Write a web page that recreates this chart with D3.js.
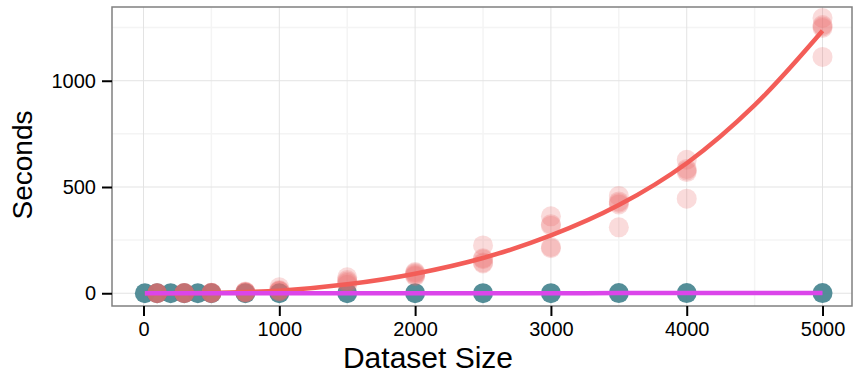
<!DOCTYPE html>
<html>
<head>
<meta charset="utf-8">
<script src="https://cdn.jsdelivr.net/npm/d3@7"></script>
<style>
  body { margin: 0; background: #fff; }
  text { font-family: "Liberation Sans", Arial, Helvetica, sans-serif; }
</style>
</head>
<body>
<svg id="chart"></svg>
<script>
var width = 853;
var height = 376;

// slow method: one row of repeated runs per dataset size
var slowSizes = [100, 300, 500, 750, 1000, 1500, 2000, 2500, 3000, 3500, 4000, 5000];
var slowRuns = [
    [0.1, 0.1, 0.1, 0.2, 0.2],
    [0.5, 0.6, 0.6, 0.7, 0.8],
    [1, 1, 1.5, 2, 2],
    [3, 4, 5, 6, 8],
    [8, 10, 12, 15, 28],
    [40, 48, 55, 62, 75],
    [80, 85, 90, 95, 100],
    [140, 145, 160, 165, 225],
    [212, 218, 318, 325, 362],
    [310, 418, 425, 432, 458],
    [445, 570, 578, 585, 628],
    [1112, 1248, 1255, 1262, 1295]
];

// fast method: stays near zero everywhere
var fastSizes = [10, 100, 200, 300, 400, 500, 750, 1000, 1500, 2000, 2500, 3000, 3500, 4000, 5000];
var fastSeconds = [0.01, 0.02, 0.03, 0.05, 0.06, 0.08, 0.1, 0.15, 0.2, 0.3, 0.4, 0.5, 0.6, 0.7, 0.9];

// smoothed trend of the slow method
var fitSizes = [10, 500, 1000, 1500, 2000, 2500, 3000, 3500, 4000, 4500, 5000];
var fitSeconds = [0, 2, 12, 42, 92, 166, 272, 415, 612, 885, 1235];

var xTicks = [0, 1000, 2000, 3000, 4000, 5000];
var xMinor = [500, 1500, 2500, 3500, 4500];
var yTicks = [0, 500, 1000];
var yMinor = [250, 750, 1250];

var panel = {left: 112, right: 852, top: 7, bottom: 306};

var x = d3.scaleLinear().domain([-232, 5217]).range([panel.left, panel.right]);
var y = d3.scaleLinear().domain([-60, 1347]).range([panel.bottom, panel.top]);

var svg = d3.select('#chart')
    .attr('width', width)
    .attr('height', height);

// grid
var grid = svg.append('g');
grid.selectAll('.xminor').data(xMinor).enter().append('line')
    .attr('x1', function (d) { return x(d); }).attr('x2', function (d) { return x(d); })
    .attr('y1', panel.top).attr('y2', panel.bottom)
    .attr('stroke', '#f4f4f4').attr('stroke-width', 1.5);
grid.selectAll('.yminor').data(yMinor).enter().append('line')
    .attr('y1', function (d) { return y(d); }).attr('y2', function (d) { return y(d); })
    .attr('x1', panel.left).attr('x2', panel.right)
    .attr('stroke', '#f4f4f4').attr('stroke-width', 1.5);
grid.selectAll('.xmajor').data(xTicks).enter().append('line')
    .attr('x1', function (d) { return x(d); }).attr('x2', function (d) { return x(d); })
    .attr('y1', panel.top).attr('y2', panel.bottom)
    .attr('stroke', '#e3e3e3').attr('stroke-width', 1);
grid.selectAll('.ymajor').data(yTicks).enter().append('line')
    .attr('y1', function (d) { return y(d); }).attr('y2', function (d) { return y(d); })
    .attr('x1', panel.left).attr('x2', panel.right)
    .attr('stroke', '#e3e3e3').attr('stroke-width', 1);

// points
var fastPts = fastSizes.map(function (s, i) { return [s, fastSeconds[i]]; });
svg.append('g').selectAll('circle').data(fastPts).enter().append('circle')
    .attr('cx', function (d) { return x(d[0]); })
    .attr('cy', function (d) { return y(d[1]); })
    .attr('r', 10)
    .attr('fill', '#4b8892')
    .attr('opacity', 0.95);

var slowPts = [];
slowSizes.forEach(function (s, i) {
    slowRuns[i].forEach(function (v) { slowPts.push([s, v]); });
});
svg.append('g').selectAll('circle').data(slowPts).enter().append('circle')
    .attr('cx', function (d) { return x(d[0]); })
    .attr('cy', function (d) { return y(d[1]); })
    .attr('r', 10)
    .attr('fill', '#e9686a')
    .attr('opacity', 0.24);

// trend lines
var line = d3.line()
    .x(function (d) { return x(d[0]); })
    .y(function (d) { return y(d[1]); })
    .curve(d3.curveCatmullRom);

svg.append('path')
    .datum(fitSizes.map(function (s, i) { return [s, fitSeconds[i]]; }))
    .attr('d', line)
    .attr('fill', 'none')
    .attr('stroke', '#f35d58')
    .attr('stroke-width', 4.5);

svg.append('path')
    .datum(fastPts)
    .attr('d', line)
    .attr('fill', 'none')
    .attr('stroke', '#db45ea')
    .attr('stroke-width', 4.5);

// panel border
svg.append('rect')
    .attr('x', panel.left).attr('y', panel.top)
    .attr('width', panel.right - panel.left).attr('height', panel.bottom - panel.top)
    .attr('fill', 'none').attr('stroke', '#808080').attr('stroke-width', 1.5);

// axes
var xAxis = svg.append('g')
    .attr('transform', 'translate(0,' + panel.bottom + ')')
    .call(d3.axisBottom(x).tickValues(xTicks).tickSize(10).tickPadding(6).tickFormat(d3.format('d')));
var yAxis = svg.append('g')
    .attr('transform', 'translate(' + panel.left + ',0)')
    .call(d3.axisLeft(y).tickValues(yTicks).tickSize(10).tickPadding(6).tickFormat(d3.format('d')));

[xAxis, yAxis].forEach(function (a) {
    a.select('.domain').remove();
    a.selectAll('line').attr('stroke', '#000').attr('stroke-width', 2);
    a.selectAll('text').attr('fill', '#000').style('font-size', '20px');
});

svg.append('text')
    .attr('x', 428)
    .attr('y', 368)
    .attr('text-anchor', 'middle')
    .style('font-size', '30px')
    .text('Dataset Size');

svg.append('text')
    .attr('transform', 'translate(32,165) rotate(-90)')
    .attr('text-anchor', 'middle')
    .style('font-size', '28px')
    .text('Seconds');
</script>
</body>
</html>
